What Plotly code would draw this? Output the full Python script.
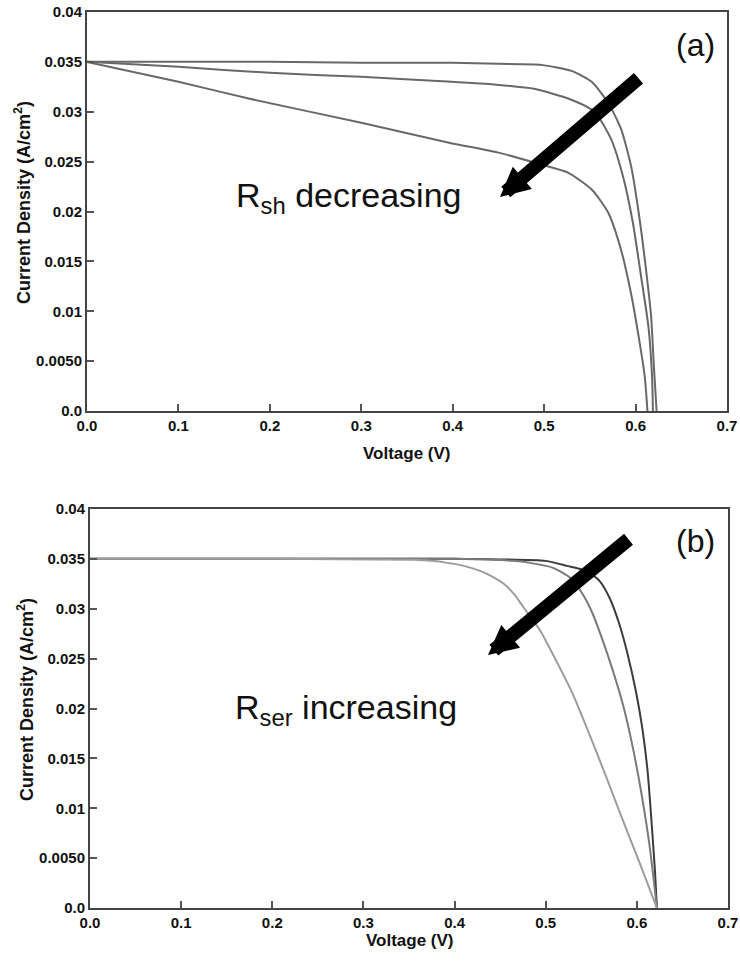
import plotly.graph_objects as go

W, H = 740, 961

# ---------------- data ----------------
# Panel (a): shunt resistance decreasing
v_a1 = [0.0, 0.1, 0.2, 0.3, 0.4, 0.45, 0.497, 0.530, 0.552, 0.570, 0.584, 0.595, 0.604, 0.611, 0.617, 0.620, 0.623]
j_a1 = [0.0350, 0.0350, 0.0350, 0.0349, 0.0349, 0.0348, 0.0347, 0.0341, 0.0330, 0.0309, 0.0283, 0.0246, 0.0195, 0.0145, 0.0095, 0.0045, 0.0]

v_a2 = [0.0, 0.1, 0.2, 0.3, 0.399, 0.435, 0.489, 0.527, 0.555, 0.573, 0.586, 0.597, 0.606, 0.614, 0.618, 0.619]
j_a2 = [0.0350, 0.0345, 0.0339, 0.0335, 0.0330, 0.0328, 0.0323, 0.0313, 0.0300, 0.0273, 0.0236, 0.0189, 0.0135, 0.0085, 0.0035, 0.0]

v_a3 = [0.0, 0.1, 0.178, 0.3, 0.396, 0.45, 0.497, 0.526, 0.552, 0.570, 0.584, 0.595, 0.604, 0.610, 0.613]
j_a3 = [0.0350, 0.0330, 0.0313, 0.0289, 0.0269, 0.0259, 0.0247, 0.0239, 0.0222, 0.0199, 0.0162, 0.0118, 0.0071, 0.0035, 0.0]

# Panel (b): series resistance increasing
v_b1 = [0.0, 0.1, 0.2, 0.3, 0.4, 0.5, 0.523, 0.544, 0.559, 0.570, 0.581, 0.590, 0.599, 0.606, 0.612, 0.617, 0.620, 0.622]
j_b1 = [0.0350, 0.0350, 0.0350, 0.0350, 0.0350, 0.0348, 0.0343, 0.0338, 0.0328, 0.0311, 0.0284, 0.0254, 0.0217, 0.0180, 0.0135, 0.0075, 0.0035, 0.0]

v_b2 = [0.0, 0.2, 0.4, 0.464, 0.483, 0.508, 0.527, 0.541, 0.552, 0.563, 0.574, 0.585, 0.596, 0.605, 0.614, 0.622]
j_b2 = [0.0350, 0.0350, 0.0350, 0.0348, 0.0346, 0.0341, 0.0331, 0.0314, 0.0294, 0.0267, 0.0237, 0.0203, 0.0159, 0.0115, 0.0062, 0.0]

v_b3 = [0.0, 0.2, 0.355, 0.375, 0.392, 0.410, 0.428, 0.442, 0.454, 0.466, 0.476, 0.494, 0.512, 0.530, 0.548, 0.567, 0.585, 0.604, 0.622]
j_b3 = [0.0350, 0.0350, 0.0349, 0.0348, 0.0346, 0.0343, 0.0338, 0.0332, 0.0325, 0.0314, 0.0301, 0.0278, 0.0247, 0.0214, 0.0174, 0.0130, 0.0087, 0.0043, 0.0]

x_ticks = [0.0, 0.1, 0.2, 0.3, 0.4, 0.5, 0.6, 0.7]
x_tick_text = ["0.0", "0.1", "0.2", "0.3", "0.4", "0.5", "0.6", "0.7"]
y_ticks = [0.0, 0.005, 0.01, 0.015, 0.02, 0.025, 0.03, 0.035, 0.04]
y_tick_text = ["0.0", "0.0050", "0.01", "0.015", "0.02", "0.025", "0.03", "0.035", "0.04"]

# ---------------- figure ----------------
fig = go.Figure()

def px_x(p):
    return p / W

def px_y(p):
    return 1 - p / H

top_cols = ["#686868", "#686868", "#686868"]
for v, j, c in [(v_a1, j_a1, top_cols[0]), (v_a2, j_a2, top_cols[1]), (v_a3, j_a3, top_cols[2])]:
    fig.add_trace(go.Scatter(x=v, y=j, mode="lines", line=dict(color=c, width=2, shape="spline", smoothing=0.6),
                             xaxis="x", yaxis="y", showlegend=False, hoverinfo="skip"))

bot_cols = ["#3c3c3c", "#7a7a7a", "#9c9c9c"]
for v, j, c in [(v_b1, j_b1, bot_cols[0]), (v_b2, j_b2, bot_cols[1]), (v_b3, j_b3, bot_cols[2])]:
    fig.add_trace(go.Scatter(x=v, y=j, mode="lines", line=dict(color=c, width=2, shape="spline", smoothing=0.6),
                             xaxis="x2", yaxis="y2", showlegend=False, hoverinfo="skip"))

FAM = "Liberation Sans, Arial, sans-serif"
tickfont = dict(family=FAM, size=15, color="#111", weight="bold")

def xaxis(domain, anchor):
    return dict(domain=domain, anchor=anchor, range=[0, 0.7], tickvals=x_ticks, ticktext=x_tick_text,
                ticks="inside", ticklen=7, tickwidth=1.5, tickcolor="#555",
                showline=True, mirror=True, linecolor="#444", linewidth=2,
                showgrid=False, zeroline=False, tickfont=tickfont, automargin=False)

def yaxis(domain, anchor):
    return dict(domain=domain, anchor=anchor, range=[0, 0.04], tickvals=y_ticks, ticktext=y_tick_text,
                ticks="inside", ticklen=7, tickwidth=1.5, tickcolor="#555",
                showline=True, mirror=True, linecolor="#444", linewidth=2,
                showgrid=False, zeroline=False, tickfont=tickfont, automargin=False)

fig.update_layout(
    width=W, height=H,
    margin=dict(l=0, r=0, t=0, b=0),
    paper_bgcolor="white", plot_bgcolor="white",
    xaxis=xaxis([px_x(87), px_x(727)], "y"),
    yaxis=yaxis([px_y(411), px_y(12)], "x"),
    xaxis2=xaxis([px_x(90), px_x(728)], "y2"),
    yaxis2=yaxis([px_y(908), px_y(509)], "x2"),
)

xtitle_font = dict(family=FAM, size=17, color="#111", weight="bold")
ytitle_font = dict(family=FAM, size=18, color="#111", weight="bold")
label_font = dict(family=FAM, size=34, color="#111")
panel_font = dict(family=FAM, size=32, color="#111")

def note(text, x, y, font, **kw):
    return dict(text=text, x=px_x(x), y=px_y(y), xref="paper", yref="paper", showarrow=False,
                xanchor="center", yanchor="middle", font=font, **kw)

annotations = [
    # axis titles
    note("Voltage (V)", 407, 453, xtitle_font),
    note("Voltage (V)", 410, 940, xtitle_font),
    note("Current Density (A/cm<sup>2</sup>)", 22, 203, ytitle_font, textangle=-90),
    note("Current Density (A/cm<sup>2</sup>)", 25, 700, ytitle_font, textangle=-90),
    # panel labels
    note("(a)", 695, 45, panel_font),
    note("(b)", 695, 541, panel_font),
    # descriptive labels
    note("R<sub>sh</sub> decreasing", 348, 198, label_font),
    note("R<sub>ser</sub> increasing", 346, 709, label_font),
    # arrows
    dict(text="", x=px_x(500), y=px_y(197), xref="paper", yref="paper", showarrow=True,
         ax=140, ay=-120, axref="pixel", ayref="pixel", arrowhead=2, arrowwidth=14, arrowsize=0.42,
         arrowcolor="black", standoff=0, startstandoff=0),
    dict(text="", x=px_x(488), y=px_y(655), xref="paper", yref="paper", showarrow=True,
         ax=142, ay=-117, axref="pixel", ayref="pixel", arrowhead=2, arrowwidth=14, arrowsize=0.42,
         arrowcolor="black", standoff=0, startstandoff=0),
]
fig.update_layout(annotations=annotations)

fig.write_html("out.html")
